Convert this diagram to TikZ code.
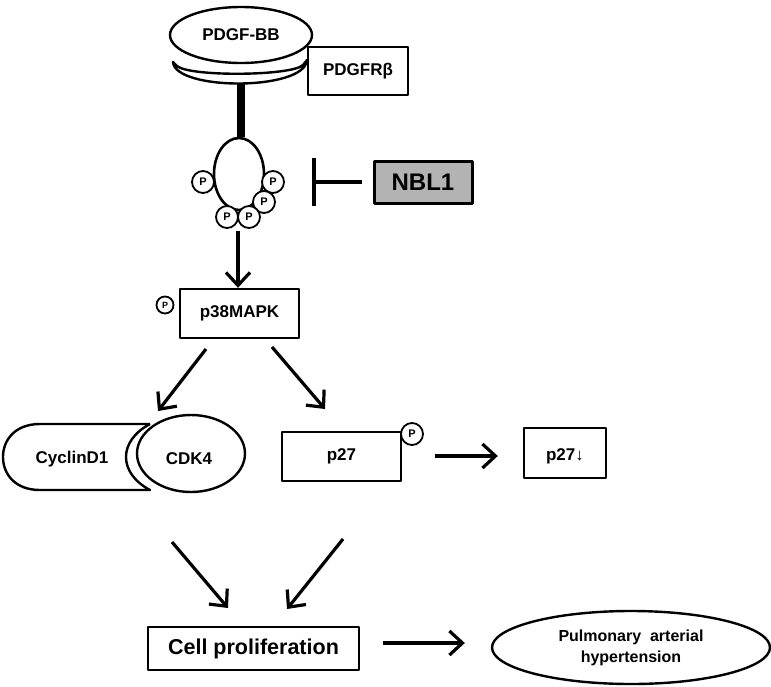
\documentclass[tikz,border=0pt]{standalone}
\usepackage{fontspec}
\setmainfont{Liberation Sans}
\usetikzlibrary{arrows.meta,shapes.geometric}
\begin{document}
\begin{tikzpicture}[x=1pt,y=-1pt,line join=round,
  lbl/.style={font=\bfseries\fontsize{17}{19}\selectfont},
  box/.style={draw,line width=2.4pt,inner sep=0pt,lbl},
  ell/.style={draw,ellipse,line width=2.4pt,inner sep=0pt,lbl},
  pc/.style={draw,circle,line width=1.8pt,fill=white,inner sep=0pt,minimum size=22pt,font=\bfseries\fontsize{11}{11}\selectfont},
  pcs/.style={pc,minimum size=17pt,font=\bfseries\fontsize{9}{9}\selectfont},
  arr/.style={line width=3.2pt,-{Straight Barb[length=13pt,width=24pt,line width=3.2pt]}}]
\useasboundingbox (0,0) rectangle (771,686);
\definecolor{nblgray}{RGB}{179,179,179}
% receptor crescent
\draw[line width=2.4pt,fill=white] (173,62) .. controls (175,91) and (305,91) .. (307,60)
  -- (303,65) .. controls (292,76) and (190,77) .. (177,66) -- cycle;
\node[ell,minimum width=142pt,minimum height=56pt,fill=white] (pdgf) at (241,35) {PDGF-BB};
\node[box,minimum width=100pt,minimum height=48pt,fill=white] (pdgfr) at (358,71) {PDGFRβ};
% kinase
\node[draw,ellipse,line width=2.6pt,minimum width=50pt,minimum height=72pt,inner sep=0pt] (kin) at (239,174) {};
\coordinate (rc) at (241,84);
\draw[line width=8pt] (rc) -- (rc |- kin.north);
\node[pc] (p1) at (203,182) {P};
\node[pc] (p2) at (273,182) {P};
\node[pc] (p3) at (264,202) {P};
\node[pc] (p4) at (227,217) {P};
\node[pc] (p5) at (249,217) {P};
% NBL1
\node[draw,line width=3pt,fill=nblgray,minimum width=98pt,minimum height=42pt,inner sep=0pt,font=\bfseries\fontsize{24}{26}\selectfont] (nbl) at (423,182) {NBL1};
\coordinate (inh) at (312,182);
\draw[line width=3.5pt,shorten <=11pt,-{Bar[width=48pt,line width=4pt]}] (nbl.west) -- (inh);
% p38MAPK
\node[box,minimum width=119pt,minimum height=49pt] (p38) at (239.5,313.5) {p38MAPK};
\node[pcs] (p6) at (165,305) {P};
\coordinate (k1) at (238,231);
\draw[arr] (k1) -- (k1 |- p38.north);
% Cyclin D1 / CDK4
\draw[line width=2.4pt] (150,424) -- (40,424) .. controls (15,424) and (3,440) .. (3,457)
  .. controls (3,474) and (15,490) .. (40,490) -- (150,490)
  .. controls (118,473) and (118,441) .. (150,424);
\node[lbl] (cyc) at (72,459) {CyclinD1};
\node[ell,minimum width=108pt,minimum height=77pt] (cdk) at (191,453.5) {};
\node[lbl] (cdkt) at (189,459) {CDK4};
% p27
\node[box,minimum width=119pt,minimum height=49pt] (p27) at (341.5,456.5) {p27};
\node[pc] (p7) at (412,434) {P};
\node[box,minimum width=82pt,minimum height=50pt] (p27d) at (565,453) {};
\node[lbl] (p27dt) at (565,456) {p27↓};
\coordinate (a1) at (435,456);
\draw[arr,shorten >=25pt] (a1) -- (a1 -| p27d.west);
% arrows from p38
\coordinate (b1) at (206,349); \coordinate (b2) at (158,411);
\coordinate (b3) at (272,347); \coordinate (b4) at (325,409);
\draw[arr] (b1) -- (b2);
\draw[arr] (b3) -- (b4);
% cell proliferation
\node[draw,line width=2.6pt,minimum width=211pt,minimum height=43pt,inner sep=0pt,font=\bfseries\fontsize{21.5}{24}\selectfont] (cp) at (253.5,648.5) {Cell proliferation};
\coordinate (c1) at (172,542); \coordinate (c2) at (228,608);
\coordinate (c3) at (343,539); \coordinate (c4) at (287,609);
\draw[arr] (c1) -- (c2);
\draw[arr] (c3) -- (c4);
% PAH
\node[ell,minimum width=278pt,minimum height=73pt,align=center,font=\bfseries\fontsize{16}{21}\selectfont] (pah) at (631,647.5) {Pulmonary\ \ arterial\\hypertension};
\coordinate (d1) at (383,643);
\draw[arr,shorten >=26pt] (d1) -- (d1 -| pah.west);
\end{tikzpicture}
\end{document}
